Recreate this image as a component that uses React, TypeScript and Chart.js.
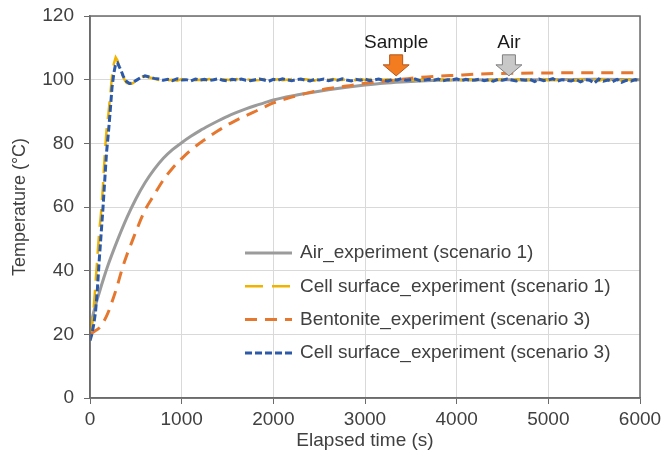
import React, { useEffect, useRef } from 'react';
import { Chart, registerables } from 'chart.js';

Chart.register(...registerables);

// ---------- data ----------
const seriesLabels = [
  'Air_experiment (scenario 1)',
  'Cell surface_experiment (scenario 1)',
  'Bentonite_experiment (scenario 3)',
  'Cell surface_experiment (scenario 3)',
];

const airTimes = [0, 25, 50, 100, 150, 200, 250, 300, 400, 500, 600, 700, 800, 900, 1000, 1100, 1200, 1300, 1400, 1500, 1600, 1700, 1800, 1900, 2000, 2200, 2400, 2600, 2800, 3000, 3200, 3400, 3600, 3800, 4000, 4500, 5000, 5500, 6000];
const airTemps = [20, 25, 28, 33, 37.7, 42, 45.9, 49.6, 56.5, 62.5, 67.6, 71.8, 75.3, 78, 80.2, 82.2, 84, 85.6, 87.1, 88.5, 89.7, 90.8, 91.8, 92.7, 93.6, 94.9, 95.9, 96.8, 97.6, 98.3, 98.9, 99.3, 99.6, 99.8, 99.9, 100, 100, 100.1, 100];

const bentoniteTimes = [0, 50, 100, 150, 200, 250, 300, 350, 400, 450, 500, 600, 700, 800, 900, 1000, 1100, 1200, 1300, 1400, 1500, 1600, 1700, 1800, 1900, 2000, 2200, 2400, 2600, 2800, 3000, 3200, 3400, 3600, 3800, 4000, 4200, 4400, 4600, 5000, 5500, 6000];
const bentoniteTemps = [20, 21, 22, 24, 27, 31, 35.5, 40.5, 44.8, 48.5, 52.2, 59, 63.8, 68.5, 72.2, 75.2, 77.9, 80.1, 82.1, 84, 85.8, 87.3, 88.7, 90, 91.4, 92.7, 94.5, 96, 97.2, 98, 98.9, 99.5, 100.1, 100.7, 101.1, 101.4, 101.7, 101.9, 102, 102.1, 102.2, 102.2];

const cellTimes = [
  0, 20, 40, 60, 80, 100, 120, 140, 160, 180, 200, 220, 240, 260, 280, 300, 320, 340, 360, 380, 400,
  430, 460, 500, 550, 600, 650, 700,
  750, 800, 850, 900, 950, 1000, 1050, 1100, 1150, 1200,
  1250, 1300, 1350, 1400, 1450, 1500, 1550, 1600, 1650, 1700,
  1750, 1800, 1850, 1900, 1950, 2000, 2050, 2100, 2150, 2200,
  2250, 2300, 2350, 2400, 2450, 2500, 2550, 2600, 2650, 2700,
  2750, 2800, 2850, 2900, 2950, 3000, 3050, 3100, 3150, 3200,
  3250, 3300, 3350, 3400, 3450, 3500, 3550, 3600, 3650, 3700,
  3750, 3800, 3850, 3900, 3950, 4000, 4050, 4100, 4150, 4200,
  4250, 4300, 4350, 4400, 4450, 4500, 4550, 4600, 4650, 4700,
  4750, 4800, 4850, 4900, 4950, 5000, 5050, 5100, 5150, 5200,
  5250, 5300, 5350, 5400, 5450, 5500, 5550, 5600, 5650, 5700,
  5750, 5800, 5850, 5900, 5950, 6000,
];

const cellScenario1Temps = [
  20, 22, 28, 36, 44, 52, 58, 66, 76, 84, 89, 95, 101, 105, 107, 106, 104, 102, 101, 99.8, 99.0,
  98.7, 98.8, 99.5, 100.8, 101.1, 100.7, 100.3,
  99.9, 100.2, 99.8, 100.0, 99.7, 100.2, 99.9, 100.1, 99.8, 100.0,
  99.8, 100.2, 99.9, 99.7, 100.1, 100.0, 99.8, 100.2, 99.9, 100.1,
  100.0, 99.8, 99.9, 100.2, 99.8, 99.9, 100.1, 99.8, 100.0, 100.2,
  99.8, 99.9, 100.1, 100.0, 99.7, 100.2, 99.9, 100.0, 100.2, 99.9,
  99.9, 100.1, 100.0, 99.8, 100.2, 99.9, 100.1, 100.3, 99.8, 100.0,
  100.1, 99.8, 100.0, 100.2, 99.9, 100.1, 99.8, 100.0, 100.2, 99.9,
  100.0, 99.9, 100.1, 99.8, 100.0, 100.2, 99.9, 100.0, 100.1, 99.8,
  99.9, 100.1, 99.8, 100.0, 99.9, 100.2, 99.8, 100.0, 100.1, 99.9,
  100.0, 99.8, 100.1, 99.9, 100.2, 99.8, 100.0, 99.9, 100.1, 99.8,
  100.0, 99.7, 100.1, 99.9, 99.8, 100.0, 99.6, 100.1, 99.9, 99.8,
  100.0, 99.7, 100.1, 99.8, 99.9, 100.0,
];

const cellScenario3Temps = [
  18, 20, 23, 27, 34, 43, 51, 59, 68, 77, 83, 90, 97.5, 102, 105, 105.3, 104, 102.8, 101.3, 100.1, 99.4,
  98.8, 98.9, 99.7, 100.6, 101.2, 100.8, 100.4,
  100.2, 99.8, 100.1, 99.7, 100.3, 99.9, 100.0, 99.6, 100.2, 99.9,
  100.1, 99.7, 100.0, 100.3, 99.8, 99.6, 100.1, 99.9, 100.2, 99.8,
  99.7, 100.0, 100.2, 99.9, 99.5, 100.1, 99.8, 100.3, 99.9, 99.7,
  100.0, 100.2, 99.8, 99.6, 100.1, 99.9, 100.2, 99.7, 100.0, 99.8,
  100.3, 99.9, 99.6, 100.1, 99.8, 100.2, 99.7, 99.9, 100.2, 99.8,
  99.6, 100.1, 99.9, 100.3, 99.8, 100.0, 100.2, 99.7, 99.9, 100.1,
  99.8, 100.2, 99.6, 100.0, 99.9, 100.3, 99.7, 100.1, 99.8, 99.9,
  100.2, 99.7, 100.0, 99.5, 100.1, 99.8, 100.2, 99.9, 99.6, 100.0,
  99.8, 100.1, 99.4, 100.2, 99.7, 99.9, 100.3, 99.5, 100.0, 99.8,
  99.6, 100.1, 99.3, 100.0, 99.8, 98.9, 100.2, 99.5, 99.9, 99.4,
  100.1, 99.2, 99.8, 99.5, 100.0, 99.7,
];

const markerLabels = ['Sample', 'Air'];
const markerTimes = [3340, 4570];

// ---------- styles ----------
const FONT = "'Liberation Sans', Arial, Helvetica, sans-serif";
const TEXT = '#404040';
const FRAME = '#6b6b6b';
const GRID = '#d9d9d9';
const HSIZE = 19; // horizontal text size
const VSIZE = 18; // vertical title size

const seriesStyles = [
  { color: '#9b9b9b', width: 3, dash: [] as number[], order: 4, tension: 0.35 },
  { color: '#F0B400', width: 2.5, dash: [18, 9], order: 3, tension: 0 },
  { color: '#E5772F', width: 3, dash: [12, 8], order: 2, tension: 0.35 },
  { color: '#2C59A8', width: 3, dash: [7, 3], order: 1, tension: 0 },
];
const markerStyles = [
  { fill: '#F47C20', stroke: '#B4561A' },
  { fill: '#C8C8C8', stroke: '#7F7F7F' },
];

const toPoints = (xs: number[], ys: number[]) => xs.map((x, i) => ({ x, y: ys[i] }));

const framePlugin = {
  id: 'frame',
  afterDatasetsDraw(chart: any) {
    const { ctx, chartArea: a } = chart;
    ctx.save();
    ctx.strokeStyle = FRAME;
    ctx.lineWidth = 1.5;
    ctx.strokeRect(a.left, a.top, a.right - a.left, a.bottom - a.top);
    ctx.restore();
  },
};

const markerPlugin = {
  id: 'markers',
  afterDatasetsDraw(chart: any) {
    const { ctx, scales } = chart;
    const xs = scales.x;
    const ys = scales.y;
    ctx.save();
    markerLabels.forEach((label, i) => {
      const cx = xs.getPixelForValue(markerTimes[i]);
      const tip = ys.getPixelForValue(101.2);
      const top = ys.getPixelForValue(107.8);
      const headH = 11;
      const shaftW = 13;
      const headW = 26;
      const st = markerStyles[i];
      ctx.beginPath();
      ctx.moveTo(cx - shaftW / 2, top);
      ctx.lineTo(cx + shaftW / 2, top);
      ctx.lineTo(cx + shaftW / 2, tip - headH);
      ctx.lineTo(cx + headW / 2, tip - headH);
      ctx.lineTo(cx, tip);
      ctx.lineTo(cx - headW / 2, tip - headH);
      ctx.lineTo(cx - shaftW / 2, tip - headH);
      ctx.closePath();
      ctx.fillStyle = st.fill;
      ctx.fill();
      ctx.strokeStyle = st.stroke;
      ctx.lineWidth = 1;
      ctx.stroke();
      ctx.fillStyle = '#1a1a1a';
      ctx.font = `${HSIZE}px ${FONT}`;
      ctx.textAlign = 'center';
      ctx.textBaseline = 'middle';
      ctx.fillText(label, cx, ys.getPixelForValue(111.6));
    });
    ctx.restore();
  },
};

const legendPlugin = {
  id: 'innerLegend',
  afterDraw(chart: any) {
    const { ctx, chartArea: a } = chart;
    const x0 = a.left + 155;
    const lineLen = 47;
    const y0 = a.top + 237;
    const rowH = 33.3;
    ctx.save();
    chart.data.datasets.forEach((ds: any, i: number) => {
      const y = y0 + i * rowH;
      ctx.beginPath();
      ctx.setLineDash(ds.borderDash || []);
      ctx.strokeStyle = ds.borderColor;
      ctx.lineWidth = ds.borderWidth;
      ctx.moveTo(x0, y);
      ctx.lineTo(x0 + lineLen, y);
      ctx.stroke();
      ctx.setLineDash([]);
      ctx.fillStyle = TEXT;
      ctx.font = `${HSIZE}px ${FONT}`;
      ctx.textAlign = 'left';
      ctx.textBaseline = 'middle';
      ctx.fillText(ds.label, x0 + lineLen + 8, y);
    });
    ctx.restore();
  },
};

export default function App() {
  const ref = useRef<HTMLCanvasElement | null>(null);

  useEffect(() => {
    if (!ref.current) return;
    const seriesData = [
      toPoints(airTimes, airTemps),
      toPoints(cellTimes, cellScenario1Temps),
      toPoints(bentoniteTimes, bentoniteTemps),
      toPoints(cellTimes, cellScenario3Temps),
    ];
    const chart = new Chart(ref.current, {
      type: 'line',
      data: {
        datasets: seriesLabels.map((label, i) => ({
          label,
          data: seriesData[i],
          borderColor: seriesStyles[i].color,
          backgroundColor: seriesStyles[i].color,
          borderWidth: seriesStyles[i].width,
          borderDash: seriesStyles[i].dash,
          order: seriesStyles[i].order,
          tension: seriesStyles[i].tension,
          cubicInterpolationMode: seriesStyles[i].tension ? 'monotone' : 'default',
          pointRadius: 0,
          fill: false,
        })),
      },
      options: {
        animation: false,
        responsive: false,
        devicePixelRatio: 1,
        layout: { padding: { left: 0, right: 23, top: 16, bottom: 0 } },
        plugins: {
          legend: { display: false },
          tooltip: { enabled: false },
        },
        scales: {
          x: {
            type: 'linear',
            min: 0,
            max: 6000,
            ticks: {
              stepSize: 1000,
              color: TEXT,
              font: { family: FONT, size: HSIZE },
              padding: 4,
              maxRotation: 0,
              callback: (v: any) => String(v),
            },
            grid: { color: GRID, lineWidth: 1, tickColor: FRAME, tickLength: 6 },
            border: { color: FRAME, width: 1.5 },
            title: {
              display: true,
              text: 'Elapsed time (s)',
              color: TEXT,
              font: { family: FONT, size: HSIZE },
              padding: { top: 0, bottom: 8 },
            },
            afterFit(scale: any) {
              scale.height = 62;
              scale.paddingLeft = 0;
              scale.paddingRight = 0;
            },
          },
          y: {
            type: 'linear',
            min: 0,
            max: 120,
            ticks: {
              stepSize: 20,
              color: TEXT,
              font: { family: FONT, size: HSIZE },
              padding: 10,
              callback: (v: any) => String(v),
            },
            grid: { color: GRID, lineWidth: 1, tickColor: FRAME, tickLength: 6 },
            border: { color: FRAME, width: 1.5 },
            title: {
              display: true,
              text: 'Temperature (°C)',
              color: TEXT,
              font: { family: FONT, size: VSIZE },
              padding: { top: 9, bottom: 0 },
            },
            afterFit(scale: any) {
              scale.width = 90;
              scale.paddingTop = 0;
              scale.paddingBottom = 0;
            },
          },
        },
      },
      plugins: [framePlugin, markerPlugin, legendPlugin],
    } as any);
    return () => chart.destroy();
  }, []);

  return (
    <div style={{ position: 'fixed', left: 0, top: 0, width: 663, height: 460, background: '#fff' }}>
      <canvas ref={ref} width={663} height={460} style={{ width: 663, height: 460 }} />
    </div>
  );
}
